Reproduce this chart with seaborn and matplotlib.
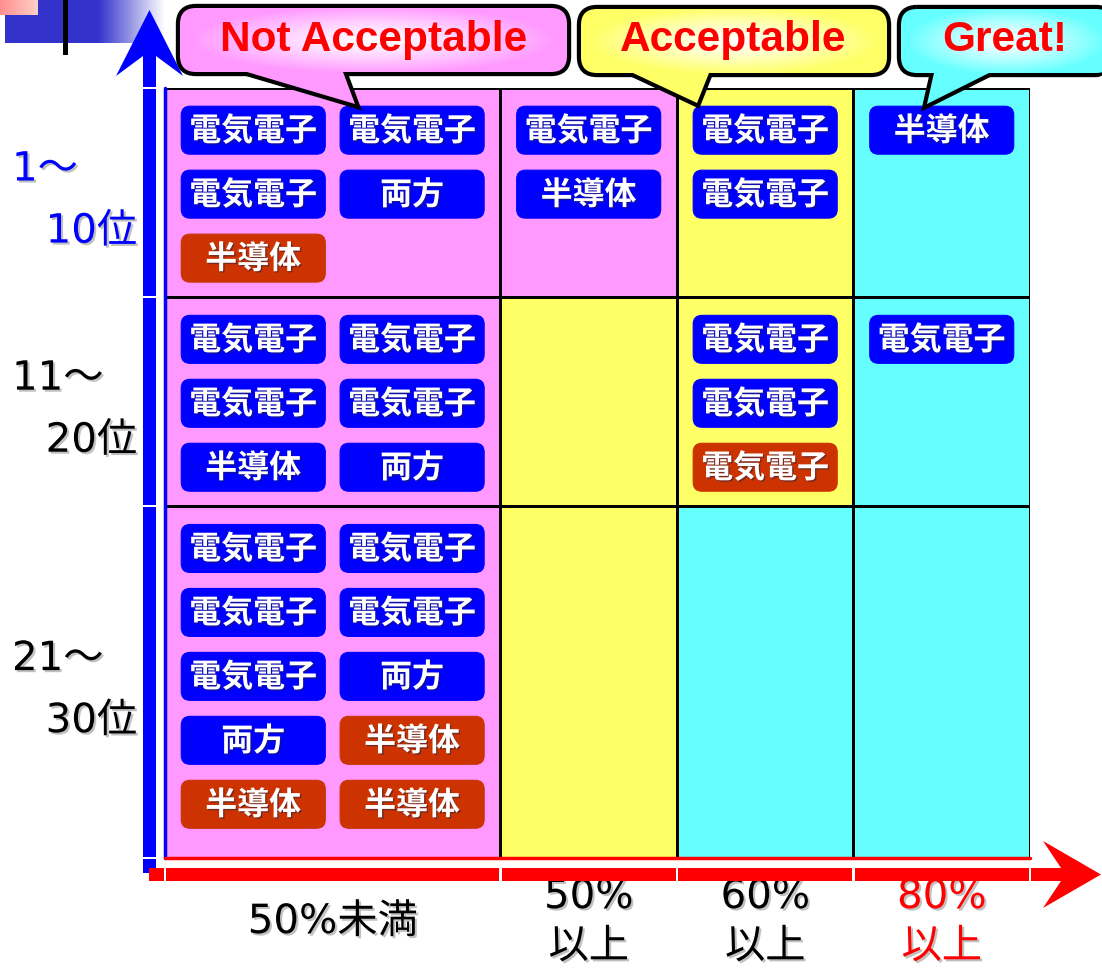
import numpy as np
import pandas as pd
import matplotlib
matplotlib.use("Agg")
import matplotlib.pyplot as plt
import matplotlib.patheffects as pe
import matplotlib.transforms as mtransforms
from matplotlib.colors import ListedColormap, to_rgb
from matplotlib.patches import FancyBboxPatch, Polygon, Rectangle
import seaborn as sns

# ---------------- data ----------------
rank_from = ["1～", "11～", "21～"]
rank_to = ["10位", "20位", "30位"]
rank_colors = ["#0000FF", "black", "black"]
share_top = ["50%未満", "50%", "60%", "80%"]
share_bottom = ["", "以上", "以上", "以上"]
share_colors = ["black", "black", "black", "#FF0000"]
zone_labels = ["Not Acceptable", "Acceptable", "Great!"]
zone_of_cell = [[0, 0, 1, 2],
                [0, 1, 1, 2],
                [0, 1, 2, 2]]
badge_rank = [0] * 10 + [1] * 10 + [2] * 10
badge_band = [0, 0, 0, 0, 0, 1, 1, 2, 2, 3,
              0, 0, 0, 0, 0, 0, 2, 2, 2, 3,
              0, 0, 0, 0, 0, 0, 0, 0, 0, 0]
badge_label = ["電気電子", "電気電子", "電気電子", "両方", "半導体",
               "電気電子", "半導体", "電気電子", "電気電子", "半導体",
               "電気電子", "電気電子", "電気電子", "電気電子", "半導体", "両方",
               "電気電子", "電気電子", "電気電子", "電気電子",
               "電気電子", "電気電子", "電気電子", "電気電子", "電気電子",
               "両方", "両方", "半導体", "半導体", "半導体"]
badge_flag = [0, 0, 0, 0, 1, 0, 0, 0, 0, 0,
              0, 0, 0, 0, 0, 0, 0, 0, 1, 0,
              0, 0, 0, 0, 0, 0, 0, 1, 1, 1]

# ---------------- style ----------------
sns.set_theme(style="white")
plt.rcParams["font.family"] = ["Noto Sans CJK JP", "DejaVu Sans"]
LABEL_FONT = ["DejaVu Sans", "Noto Sans CJK JP"]
zone_colors = ["#FF99FF", "#FFFF66", "#66FFFF"]
badge_colors = ["#0000FF", "#CC3300"]

W, H = 1102, 968
PL, PT, PR, PB = 165, 88, 1030, 858
col_w = np.array([1.9, 1.0, 1.0, 1.0])
row_h = np.array([3.27, 3.27, 5.5])
col_edges = np.concatenate([[0], np.cumsum(col_w)])
row_edges = np.concatenate([[0], np.cumsum(row_h)])
XMAX, YMAX = col_edges[-1], row_edges[-1]
px_per_x = (PR - PL) / XMAX
px_per_y = (PB - PT) / YMAX

df = pd.DataFrame(dict(rank=badge_rank, band=badge_band, label=badge_label, flag=badge_flag))
df["k"] = df.groupby(["rank", "band"]).cumcount()
ncol = np.where(df["band"] == 0, 2, 1)
df["line"] = df["k"] // ncol
df["sub"] = df["k"] % ncol
df["x"] = col_edges[df["band"].values] + 0.5 + df["sub"] * 0.9
df["y"] = row_edges[df["rank"].values] + 0.66 + df["line"]

fig = plt.figure(figsize=(W / 100, H / 100), dpi=100)
fig.patch.set_facecolor("white")
ax = fig.add_axes([PL / W, 1 - PB / H, (PR - PL) / W, (PB - PT) / H])
ax.set_xlim(0, XMAX)
ax.set_ylim(YMAX, 0)
ax.axis("off")

ax.pcolormesh(col_edges, row_edges, np.array(zone_of_cell),
              cmap=ListedColormap(zone_colors), vmin=-0.5, vmax=2.5,
              edgecolors="black", linewidth=1.8, zorder=1)
ax.plot([0, 0], [0, YMAX], color="#0000FF", lw=2.5, zorder=2, clip_on=False)
ax.plot([0, XMAX], [YMAX, YMAX], color="#FF0000", lw=2.5, zorder=2, clip_on=False)

bw, bh = 0.816, 0.75
asp = px_per_x / px_per_y
shadow = [pe.withSimplePatchShadow(offset=(1, -1), shadow_rgbFace="#202040", alpha=0.5)]
for _, r in df.iterrows():
    box = FancyBboxPatch((r.x - bw / 2, r.y - bh / 2), bw, bh,
                         boxstyle="round,pad=0,rounding_size=0.05",
                         mutation_aspect=asp, fc=badge_colors[r.flag],
                         ec=badge_colors[r.flag], lw=0.8, zorder=3)
    ax.add_patch(box)
    ax.text(r.x, r.y + 0.02, r.label, ha="center", va="center", color="white",
            fontsize=23, fontweight="bold", zorder=4, path_effects=shadow)

# axis category labels
lab_shadow = [pe.withSimplePatchShadow(offset=(1.5, -1.5), shadow_rgbFace="#999999", alpha=0.6)]
bt = mtransforms.blended_transform_factory(ax.transAxes, ax.transData)
LFS = 29
for i in range(3):
    yc = (row_edges[i] + row_edges[i + 1]) / 2
    ax.text((12 - PL) / (PR - PL), yc - 0.36, rank_from[i], transform=bt, ha="left",
            va="center", fontsize=LFS, color=rank_colors[i], clip_on=False,
            family=LABEL_FONT, path_effects=lab_shadow)
    ax.text((137 - PL) / (PR - PL), yc + 0.61, rank_to[i], transform=bt, ha="right",
            va="center", fontsize=LFS, color=rank_colors[i], clip_on=False,
            family=LABEL_FONT, path_effects=lab_shadow)
for j in range(4):
    xc = (col_edges[j] + col_edges[j + 1]) / 2
    kw = dict(ha="center", va="center", fontsize=LFS, color=share_colors[j], clip_on=False,
              family=LABEL_FONT, path_effects=lab_shadow)
    if share_bottom[j]:
        ax.text(xc, YMAX + 39 / px_per_y, share_top[j], **kw)
        ax.text(xc, YMAX + 89 / px_per_y, share_bottom[j], **kw)
    else:
        ax.text(xc, YMAX + 64 / px_per_y, share_top[j], **kw)

# ---------------- decorations (pixel overlay) ----------------
oax = fig.add_axes([0, 0, 1, 1])
oax.axis("off")
oax.patch.set_alpha(0)


def grad_h(c0, c1, n=256):
    a, b = np.array(to_rgb(c0)), np.array(to_rgb(c1))
    t = np.linspace(0, 1, n)[None, :, None]
    return a * (1 - t) + b * t


# slide logo
oax.add_patch(Rectangle((5, 0), 93, 43, fc="#3333CC", ec="none", zorder=1))
oax.imshow(grad_h("#3333CC", "#FFFFFF"), extent=(98, 165, 43, 0), aspect="auto", zorder=1)
oax.imshow(grad_h("#FF8F8F", "#FFD0C8"), extent=(0, 38, 15, 0), aspect="auto", zorder=2)
oax.add_patch(Rectangle((63, 0), 5, 55, fc="black", ec="none", zorder=3))

# y axis arrow (blue)
ry_px = PT + row_edges * px_per_y
segs = [(55, ry_px[0] - 1.2)] + [(ry_px[i] + 1.2, ry_px[i + 1] - 1.2) for i in range(3)] + [(ry_px[3] + 1.2, 873)]
for a, b in segs:
    oax.add_patch(Rectangle((143, a), 13, b - a, fc="#0000FF", ec="none", zorder=2))
oax.add_patch(Polygon([(149.5, 10), (183, 76), (156, 56), (143, 56), (116, 76)],
                      closed=True, fc="#0000FF", ec="none", zorder=2))

# x axis arrow (red)
cx_px = PL + col_edges * px_per_x
xsegs = [(149, cx_px[0] - 1.2)] + [(cx_px[i] + 1.2, cx_px[i + 1] - 1.2) for i in range(4)] + [(cx_px[4] + 1.2, 1062)]
for a, b in xsegs:
    oax.add_patch(Rectangle((a, 868), b - a, 13, fc="#FF0000", ec="none", zorder=2))
oax.add_patch(Polygon([(1101, 874.5), (1043, 841), (1061, 868), (1061, 881), (1043, 908)],
                      closed=True, fc="#FF0000", ec="none", zorder=2))


# speech bubbles
def radial(color, n=220):
    yy, xx = np.mgrid[-1:1:n * 1j, -1:1:n * 1j]
    r = np.clip(np.sqrt(xx ** 2 + (yy * 0.9) ** 2) / 0.95, 0, 1) ** 1.2
    c = np.array(to_rgb(color))
    return (1 - r[..., None]) * np.ones(3) + r[..., None] * c


bubbles = [
    dict(box=(180, 8, 567, 72), tail=[(247, 66), (247, 72), (355, 104), (343, 72), (343, 66)], text_x=374),
    dict(box=(581, 9, 887, 73), tail=[(633, 67), (633, 73), (697, 103), (709, 73), (709, 67)], text_x=733),
    dict(box=(901, 9, 1112, 73), tail=[(934, 67), (934, 73), (927, 104), (989, 73), (989, 67)], text_x=1005),
]
for i, bub in enumerate(bubbles):
    x0, y0, x1, y1 = bub["box"]
    col = zone_colors[i]
    outline = FancyBboxPatch((x0, y0), x1 - x0, y1 - y0, boxstyle="round,pad=0,rounding_size=16",
                             fc="none", ec="black", lw=6.0, zorder=5)
    oax.add_patch(outline)
    oax.add_patch(Polygon(bub["tail"], closed=True, fc="none", ec="black", lw=6.0,
                          joinstyle="miter", zorder=5))
    oax.add_patch(Polygon(bub["tail"], closed=True, fc=col, ec="none", zorder=6))
    clip = FancyBboxPatch((x0, y0), x1 - x0, y1 - y0, boxstyle="round,pad=0,rounding_size=16",
                          fc="none", ec="none", zorder=7)
    oax.add_patch(clip)
    im = oax.imshow(radial(col), extent=(x0, x1, y1, y0), aspect="auto", zorder=7)
    im.set_clip_path(clip)
    oax.text(bub["text_x"], 51, zone_labels[i], ha="center", va="baseline",
             fontsize=30.5, fontweight="bold", color="#FF0000",
             family=["Liberation Sans", "DejaVu Sans"], zorder=8)

oax.set_xlim(0, W)
oax.set_ylim(H, 0)

fig.savefig("out.png", dpi=100)
